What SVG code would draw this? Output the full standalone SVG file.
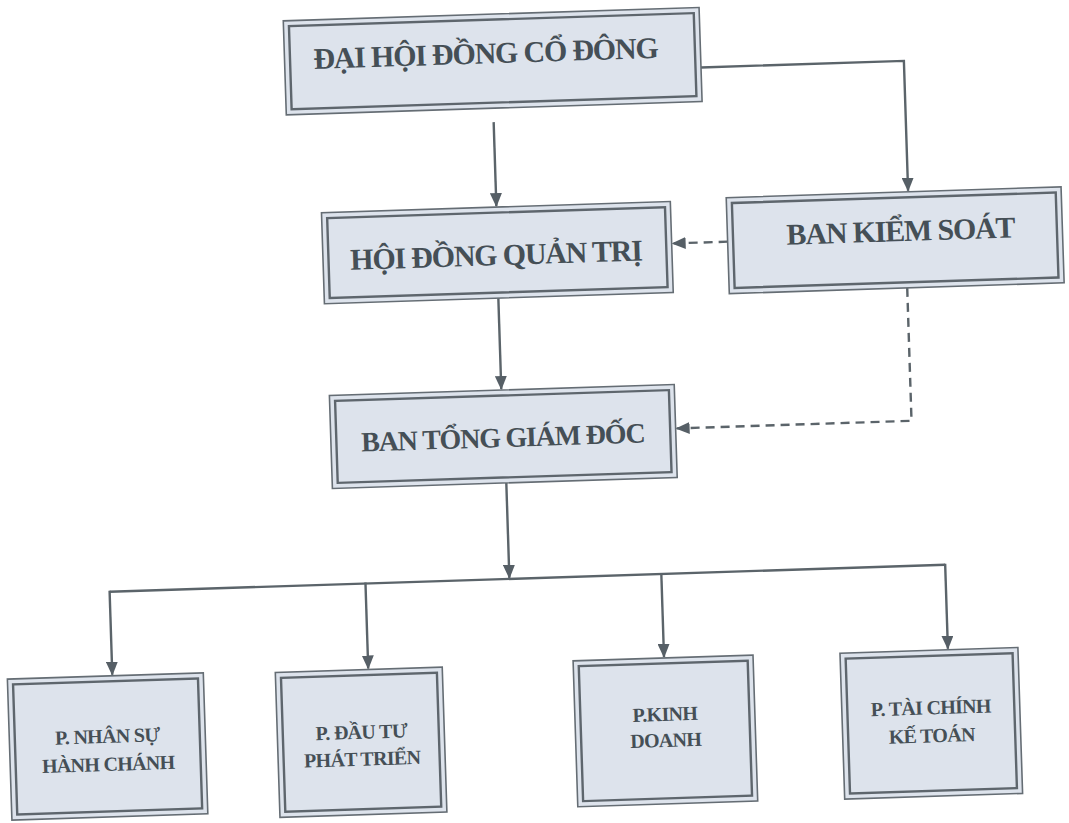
<svg xmlns="http://www.w3.org/2000/svg" width="1069" height="823" viewBox="0 0 1069 823">
<defs>
<style>
.box{fill:#dde3ec;stroke:#656d74;stroke-width:1.6}
.inner{fill:none;stroke:#5e666d;stroke-width:2.4}
.t{font-family:"Liberation Serif","Times New Roman",serif;font-weight:bold;fill:#454f56;text-anchor:middle}
.big{font-size:30px;letter-spacing:-1.2px}
.small{font-size:20px;letter-spacing:-0.7px}
.ln{fill:none;stroke:#5b646a;stroke-width:2.4}
.dash{stroke-dasharray:9 6}
</style>
<marker id="arr" viewBox="0 0 14 12" refX="13" refY="6" markerWidth="14" markerHeight="12" markerUnits="userSpaceOnUse" orient="auto">
<path d="M0,0 L14,6 L0,12 Z" fill="#565f66"/>
</marker>
</defs>
<rect width="1069" height="823" fill="#ffffff"/>
<g transform="rotate(-1.85 534 411)">
<g id="connectors">
<path class="ln" d="M712,73 H915 V203" marker-end="url(#arr)"/>
<path class="ln" d="M503,121 V205" marker-end="url(#arr)"/>
<path class="ln dash" d="M733,248 H678" marker-end="url(#arr)"/>
<path class="ln" d="M502,297 V388" marker-end="url(#arr)"/>
<path class="ln dash" d="M911,300 V433 H676" marker-end="url(#arr)"/>
<path class="ln" d="M504,482 V577" marker-end="url(#arr)"/>
<path class="ln" d="M104,578 H940"/>
<path class="ln" d="M104,577 V661" marker-end="url(#arr)"/>
<path class="ln" d="M360,577 V663" marker-end="url(#arr)"/>
<path class="ln" d="M656,577 V661" marker-end="url(#arr)"/>
<path class="ln" d="M940,577 V662" marker-end="url(#arr)"/>
</g>
<g id="dai-hoi-dong-co-dong">
<rect class="box" x="296" y="13" width="416" height="94"/>
<rect class="inner" x="301.5" y="18.5" width="405" height="83"/>
<text class="t big" x="497" y="62">ĐẠI HỘI ĐỒNG CỔ ĐÔNG</text>
</g>
<g id="hoi-dong-quan-tri">
<rect class="box" x="328" y="206" width="349" height="91"/>
<rect class="inner" x="333.5" y="211.5" width="338" height="80"/>
<text class="t big" x="501" y="264">HỘI ĐỒNG QUẢN TRỊ</text>
</g>
<g id="ban-kiem-soat">
<rect class="box" x="733" y="204" width="335" height="96"/>
<rect class="inner" x="738.5" y="209.5" width="324" height="85"/>
<text class="t big" x="906" y="253">BAN KIỂM SOÁT</text>
</g>
<g id="ban-tong-giam-doc">
<rect class="box" x="330" y="389" width="345" height="93"/>
<rect class="inner" x="335.5" y="394.5" width="334" height="82"/>
<text class="t big" x="502" y="446" style="font-size:28px">BAN TỔNG GIÁM ĐỐC</text>
</g>
<g id="p-nhan-su-hanh-chanh">
<rect class="box" x="-1" y="662" width="196" height="141"/>
<rect class="inner" x="4.5" y="667.5" width="185" height="130"/>
<text class="t small" x="97" y="729">P. NHÂN SỰ</text>
<text class="t small" x="97" y="757">HÀNH CHÁNH</text>
</g>
<g id="p-dau-tu-phat-trien">
<rect class="box" x="267" y="664" width="167" height="145"/>
<rect class="inner" x="272.5" y="669.5" width="156" height="134"/>
<text class="t small" x="351" y="733">P. ĐẦU TƯ</text>
<text class="t small" x="351" y="760">PHÁT TRIỂN</text>
</g>
<g id="p-kinh-doanh">
<rect class="box" x="565" y="662" width="180" height="146"/>
<rect class="inner" x="570.5" y="667.5" width="169" height="135"/>
<text class="t small" x="655" y="725">P.KINH</text>
<text class="t small" x="655" y="751">DOANH</text>
</g>
<g id="p-tai-chinh-ke-toan">
<rect class="box" x="832" y="663" width="178" height="146"/>
<rect class="inner" x="837.5" y="668.5" width="167" height="135"/>
<text class="t small" x="921" y="727">P. TÀI CHÍNH</text>
<text class="t small" x="921" y="755">KẾ TOÁN</text>
</g>
</g>
</svg>
